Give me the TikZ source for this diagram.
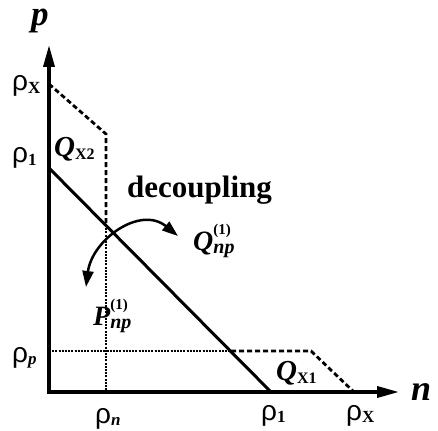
\documentclass[tikz,border=0pt]{standalone}
\usepackage{fontspec}
\setmainfont{Liberation Serif}
\newfontfamily\rhofont{Liberation Sans}
\usetikzlibrary{arrows.meta}
\newcommand{\myrho}[1]{{\fontsize{28}{28}\selectfont\rhofont ρ}\raisebox{-2.5pt}{\fontsize{17}{17}\selectfont\bfseries #1}}
\newcommand{\myQ}[2]{{\fontsize{29}{29}\selectfont\bfseries\itshape #1}\raisebox{-3pt}{\fontsize{16}{16}\selectfont\bfseries #2}}
\newcommand{\myQnp}[1]{{\fontsize{28}{28}\selectfont\bfseries\itshape #1}\rlap{\raisebox{16pt}{\fontsize{15}{15}\selectfont\bfseries (1)}}\raisebox{-3pt}{\fontsize{20}{20}\selectfont\bfseries\itshape np}}
\tikzset{
  axis/.style={line width=3.5pt,-{Triangle[length=22pt,width=11pt]}},
  mainline/.style={line width=3pt},
  dashline/.style={line width=2.8pt,dash pattern=on 5pt off 3pt},
  dotline/.style={line width=1.5pt,dash pattern=on 2pt off 1.2pt},
  lbl/.style={inner sep=0pt,anchor=base west},
  arc/.style={line width=2.5pt,{Triangle[length=16pt,width=11pt]}-{Triangle[length=16pt,width=11pt]}}
}
\begin{document}
\begin{tikzpicture}[x=1pt,y=-1pt]
\useasboundingbox (0,0) rectangle (438,430);
\coordinate (O) at (49,392);
\coordinate (ptip) at (49,45);
\coordinate (ntip) at (399,392);
\coordinate (px) at (49,84);
\coordinate (p1) at (49,168);
\coordinate (corner2) at (106,134);
\coordinate (cross2) at (106,225);
\coordinate (nbase) at (106,392);
\coordinate (pp) at (49,351);
\coordinate (cross1) at (231,351);
\coordinate (corner1) at (311,351);
\coordinate (nx) at (354,392);
\coordinate (n1) at (271,392);
\coordinate (arcL) at (86,287);
\coordinate (arcR) at (178,236);
% dotted lines
\draw[dotline] (cross2) -- (nbase);
\draw[dotline] (pp) -- (cross1);
% dashed boundaries
\draw[dashline] (px) -- (corner2) -- (cross2);
\draw[dashline] (cross1) -- (corner1) -- (nx);
% main line
\draw[mainline] (p1) -- (n1);
% axes
\draw[axis] (O) -- (ptip);
\draw[axis] ([xshift=-1.75pt]O) -- (ntip);
% arc arrows
\draw[arc] (arcL) .. controls (92,240) and (140,205) .. (arcR);
% labels
\node[lbl,text height=16pt] (plab) at (31,26) {\fontsize{35}{35}\selectfont\bfseries\itshape p};
\node[lbl] (nlab) at (411,400) {\fontsize{36}{36}\selectfont\bfseries\itshape n};
\node[lbl] (dec) at (127,197) {\fontsize{31}{31}\selectfont\bfseries decoupling};
\node[lbl] (rx) at (12,91) {\myrho{X}};
\node[lbl] (r1) at (12,163) {\myrho{1}};
\node[lbl] (rp) at (12,362) {\myrho{\itshape p}};
\node[lbl] (rn) at (95,423) {\myrho{\itshape n}};
\node[lbl] (r1b) at (261,420) {\myrho{1}};
\node[lbl] (rxb) at (346,420) {\myrho{X}};
\node[lbl] (qx2) at (54,157) {\myQ{Q}{X2}};
\node[lbl] (qx1) at (276,380) {\myQ{Q}{X1}};
\node[lbl] (qnp) at (193,250) {\myQnp{Q}};
\node[lbl] (pnp) at (93,325) {\myQnp{P}};
\end{tikzpicture}
\end{document}
